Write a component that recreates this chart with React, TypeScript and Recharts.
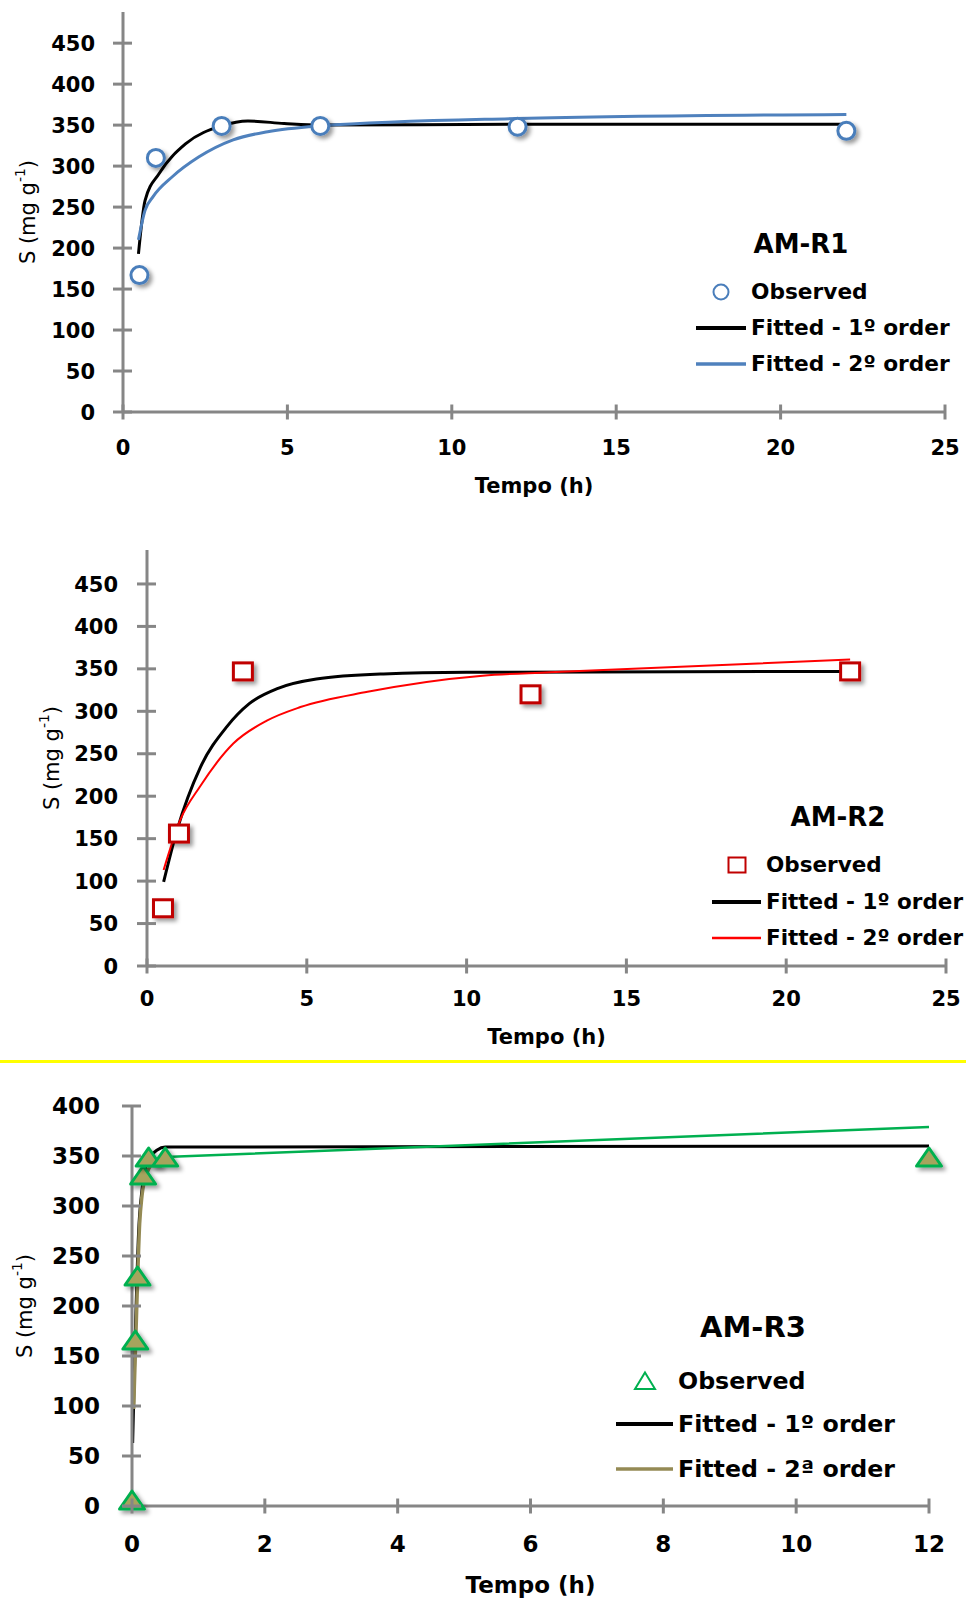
import React from 'react';
import { ComposedChart, Line, Scatter, XAxis, YAxis, Legend, Label } from 'recharts';

const FONT = '"DejaVu Sans", Verdana, sans-serif';
const AXIS_GREY = '#868686';
const PAGE_W = 966;

// ---------- AM-R1 ----------
const r1ObsTime = [0.5, 1, 3, 6, 12, 22];
const r1ObsS = [167, 310, 349, 349, 348, 343];
const r1Fit1Time = [0.47, 0.67, 1.1, 1.9, 3, 3.8, 4.9, 6, 12, 22];
const r1Fit1S = [193, 258, 291, 327, 349, 355, 352, 350, 351, 351];
const r1Fit2Time = [0.47, 0.67, 0.92, 1.5, 2.3, 3.35, 4.4, 6, 12, 22];
const r1Fit2S = [210, 246, 263, 287, 311, 332, 342, 349, 358, 363];

// ---------- AM-R2 ----------
const r2ObsTime = [0.5, 1, 3, 12, 22];
const r2ObsS = [68, 156, 347, 320, 347];
const r2Fit1Time = [0.52, 0.94, 1.67, 2.5, 3.2, 4.1, 5.3, 7.4, 10, 22];
const r2Fit1S = [99, 160, 234, 282, 309, 327, 338, 344, 346, 347];
const r2Fit2Time = [0.52, 1.04, 1.67, 2.7, 3.75, 4.8, 6.9, 10.5, 12.6, 22];
const r2Fit2S = [113, 172, 212, 262, 289, 305, 323, 342, 346, 361];

// ---------- AM-R3 ----------
const r3ObsTime = [0, 0.05, 0.083, 0.167, 0.25, 0.5, 12];
const r3ObsS = [5, 165, 229, 330, 348, 348, 348];
const r3Fit1Time = [0.01, 0.05, 0.1, 0.15, 0.225, 0.38, 0.5, 12];
const r3Fit1S = [63, 172, 275, 316, 343, 356, 359, 360];
const r3Fit2Time = [0.025, 0.075, 0.115, 0.15, 0.225, 0.3];
const r3Fit2S = [97, 206, 282, 310, 333, 342];
const r3TailTime = [0.25, 0.5, 12];
const r3TailS = [344, 349, 379];

const xTicks25 = [0, 5, 10, 15, 20, 25];
const yTicks450 = [0, 50, 100, 150, 200, 250, 300, 350, 400, 450];
const xTicks12 = [0, 2, 4, 6, 8, 10, 12];
const yTicks400 = [0, 50, 100, 150, 200, 250, 300, 350, 400];

const toPoints = (t: number[], s: number[]) => t.map((v, i) => ({ t: v, s: s[i] }));

type LegendCfg = {
  title: string;
  titleX: number;
  titleY: number;
  titleSize: number;
  fontSize: number;
  rowsY: number[];
  markerX: number;
  textX: number;
  lineX1: number;
  lineX2: number;
  marker: 'circle' | 'square' | 'triangle';
  markerColor: string;
  fit1Color: string;
  fit1Width: number;
  fit2Color: string;
  fit2Width: number;
  fit2Label: string;
};

type PanelCfg = {
  top: number;
  height: number;
  yAxisW: number;
  marginTop: number;
  marginRight: number;
  xAxisH: number;
  xDomain: [number, number];
  yDomain: [number, number];
  xTicks: number[];
  yTicks: number[];
  fs: number;
  xTickGap: number;
  yTickGap: number;
  xTitleGap: number;
  yTitleX: number;
  legend: LegendCfg;
};

const LegendMarker = ({ kind, color }: { kind: string; color: string }) => {
  if (kind === 'circle') return <circle cx={12} cy={12} r={7.5} fill="#fff" stroke={color} strokeWidth={2} />;
  if (kind === 'square') return <rect x={3.5} y={4.5} width={17} height={15} fill="#fff" stroke={color} strokeWidth={2} />;
  return <polygon points="12,3.5 22,20 2,20" fill="#fff" stroke={color} strokeWidth={2} />;
};

const LegendBox = ({ cfg, height }: { cfg: LegendCfg; height: number }) => {
  const labels = ['Observed', 'Fitted - 1º order', cfg.fit2Label];
  return (
    <div style={{ position: 'relative', width: PAGE_W, height, fontFamily: FONT, fontWeight: 'bold', color: '#000', pointerEvents: 'none' }}>
      <div style={{ position: 'absolute', left: cfg.titleX - 100, width: 200, top: cfg.titleY - 20, height: 40, lineHeight: '40px', textAlign: 'center', fontSize: cfg.titleSize }}>
        {cfg.title}
      </div>
      {cfg.rowsY.map((y, i) => (
        <React.Fragment key={labels[i]}>
          {i === 0 ? (
            <svg style={{ position: 'absolute', left: cfg.markerX - 12, top: y - 12 }} width={24} height={24}>
              <LegendMarker kind={cfg.marker} color={cfg.markerColor} />
            </svg>
          ) : (
            <svg style={{ position: 'absolute', left: cfg.lineX1, top: y - 5 }} width={cfg.lineX2 - cfg.lineX1} height={10}>
              <line
                x1={0}
                y1={5}
                x2={cfg.lineX2 - cfg.lineX1}
                y2={5}
                stroke={i === 1 ? cfg.fit1Color : cfg.fit2Color}
                strokeWidth={i === 1 ? cfg.fit1Width : cfg.fit2Width}
              />
            </svg>
          )}
          <div style={{ position: 'absolute', left: cfg.textX, top: y - 15, height: 30, lineHeight: '30px', fontSize: cfg.fontSize, whiteSpace: 'nowrap' }}>
            {labels[i]}
          </div>
        </React.Fragment>
      ))}
    </div>
  );
};

const Panel = ({ cfg, children }: { cfg: PanelCfg; children: React.ReactNode }) => {
  const plotLeft = cfg.yAxisW;
  const plotRight = PAGE_W - cfg.marginRight;
  const plotTop = cfg.marginTop;
  const plotBottom = cfg.height - cfg.xAxisH;

  const xTick = (p: any) => (
    <g>
      <line x1={p.x} y1={plotBottom - 7.5} x2={p.x} y2={plotBottom + 7.5} stroke={AXIS_GREY} strokeWidth={3} />
      <text x={p.x} y={plotBottom + cfg.xTickGap + cfg.fs * 0.36} textAnchor="middle" fontSize={cfg.fs} fontWeight="bold" fontFamily={FONT} fill="#000">
        {p.payload.value}
      </text>
    </g>
  );

  const yTick = (p: any) => (
    <g>
      <line x1={plotLeft - 10} y1={p.y} x2={plotLeft + 9} y2={p.y} stroke={AXIS_GREY} strokeWidth={3} />
      <text x={plotLeft - cfg.yTickGap} y={p.y + cfg.fs * 0.36} textAnchor="end" fontSize={cfg.fs} fontWeight="bold" fontFamily={FONT} fill="#000">
        {p.payload.value}
      </text>
    </g>
  );

  const xTitle = () => (
    <text x={(plotLeft + plotRight) / 2} y={plotBottom + cfg.xTitleGap + cfg.fs * 0.36} textAnchor="middle" fontSize={cfg.fs} fontWeight="bold" fontFamily={FONT} fill="#000">
      Tempo (h)
    </text>
  );

  const yTitle = () => {
    const cy = (plotTop + plotBottom) / 2;
    return (
      <text
        transform={`rotate(-90 ${cfg.yTitleX} ${cy})`}
        x={cfg.yTitleX}
        y={cy}
        textAnchor="middle"
        dominantBaseline="central"
        fontSize={21}
        fontFamily={FONT}
        fill="#000"
      >
        S (mg g<tspan baselineShift="super" fontSize={14}>-1</tspan>)
      </text>
    );
  };

  return (
    <div style={{ position: 'absolute', left: 0, top: cfg.top, width: PAGE_W, height: cfg.height }}>
      <ComposedChart width={PAGE_W} height={cfg.height} margin={{ top: cfg.marginTop, right: cfg.marginRight, bottom: 0, left: 0 }}>
        <XAxis
          type="number"
          dataKey="t"
          domain={cfg.xDomain}
          ticks={cfg.xTicks}
          height={cfg.xAxisH}
          axisLine={{ stroke: AXIS_GREY, strokeWidth: 3 }}
          tickLine={false}
          tickSize={0}
          tickMargin={0}
          tick={xTick}
          interval={0}
        >
          <Label content={xTitle} />
        </XAxis>
        <YAxis
          type="number"
          dataKey="s"
          domain={cfg.yDomain}
          ticks={cfg.yTicks}
          width={cfg.yAxisW}
          axisLine={{ stroke: AXIS_GREY, strokeWidth: 3 }}
          tickLine={false}
          tickSize={0}
          tickMargin={0}
          tick={yTick}
          interval={0}
        >
          <Label content={yTitle} />
        </YAxis>
        <Legend
          layout="vertical"
          align="center"
          verticalAlign="middle"
          wrapperStyle={{ left: 0, top: 0, width: PAGE_W, height: cfg.height }}
          content={() => <LegendBox cfg={cfg.legend} height={cfg.height} />}
        />
        {children}
      </ComposedChart>
    </div>
  );
};

const circleShape = (p: any) => (
  <circle cx={p.cx} cy={p.cy} r={8.5} fill="#fff" stroke="#4a7ebb" strokeWidth={3} filter="url(#mk-shadow)" />
);
const squareShape = (p: any) => (
  <rect x={p.cx - 9.5} y={p.cy - 8.5} width={19} height={17} fill="#fff" stroke="#c00000" strokeWidth={3} filter="url(#mk-shadow)" />
);
const triangleShape = (p: any) => (
  <polygon
    points={`${p.cx},${p.cy - 10} ${p.cx + 12.5},${p.cy + 8} ${p.cx - 12.5},${p.cy + 8}`}
    fill="#a6a45d"
    stroke="#00b050"
    strokeWidth={3}
    strokeLinejoin="round"
    filter="url(#mk-shadow)"
  />
);

const panel1: PanelCfg = {
  top: 0, height: 500, yAxisW: 123, marginTop: 12, marginRight: 21, xAxisH: 88,
  xDomain: [0, 25], yDomain: [0, 488], xTicks: xTicks25, yTicks: yTicks450,
  fs: 21, xTickGap: 35, yTickGap: 28, xTitleGap: 73, yTitleX: 28,
  legend: {
    title: 'AM-R1', titleX: 801, titleY: 244, titleSize: 26, fontSize: 21.7,
    rowsY: [292, 328, 364], markerX: 721, textX: 751, lineX1: 696, lineX2: 746,
    marker: 'circle', markerColor: '#4a7ebb', fit1Color: '#000', fit1Width: 4,
    fit2Color: '#4f81bd', fit2Width: 3.5, fit2Label: 'Fitted - 2º order',
  },
};

const panel2: PanelCfg = {
  top: 540, height: 520, yAxisW: 147, marginTop: 10, marginRight: 20, xAxisH: 94,
  xDomain: [0, 25], yDomain: [0, 490], xTicks: xTicks25, yTicks: yTicks450,
  fs: 21, xTickGap: 32, yTickGap: 29, xTitleGap: 70, yTitleX: 52,
  legend: {
    title: 'AM-R2', titleX: 838, titleY: 277, titleSize: 26, fontSize: 21.5,
    rowsY: [325, 362, 398], markerX: 737, textX: 766, lineX1: 712, lineX2: 761,
    marker: 'square', markerColor: '#c00000', fit1Color: '#000', fit1Width: 4,
    fit2Color: '#ff0000', fit2Width: 2.5, fit2Label: 'Fitted - 2º order',
  },
};

const panel3: PanelCfg = {
  top: 1060, height: 541, yAxisW: 132, marginTop: 46, marginRight: 37, xAxisH: 95,
  xDomain: [0, 12], yDomain: [0, 400], xTicks: xTicks12, yTicks: yTicks400,
  fs: 23, xTickGap: 38, yTickGap: 32, xTitleGap: 79, yTitleX: 25,
  legend: {
    title: 'AM-R3', titleX: 753, titleY: 267, titleSize: 29, fontSize: 23.7,
    rowsY: [321, 364, 409], markerX: 645, textX: 678, lineX1: 616, lineX2: 673,
    marker: 'triangle', markerColor: '#00b050', fit1Color: '#000', fit1Width: 4,
    fit2Color: '#948a54', fit2Width: 3.5, fit2Label: 'Fitted - 2ª order',
  },
};

export default function App() {
  return (
    <div style={{ position: 'absolute', left: 0, top: 0, width: PAGE_W, height: 1601, background: '#fff', overflow: 'hidden' }}>
      <svg width={0} height={0} style={{ position: 'absolute' }}>
        <defs>
          <filter id="mk-shadow" x="-50%" y="-50%" width="200%" height="200%">
            <feDropShadow dx={3} dy={3} stdDeviation={2} floodColor="#000" floodOpacity={0.4} />
          </filter>
        </defs>
      </svg>

      <Panel cfg={panel1}>
        <Line data={toPoints(r1Fit1Time, r1Fit1S)} dataKey="s" type="monotone" stroke="#000" strokeWidth={3} dot={false} isAnimationActive={false} />
        <Line data={toPoints(r1Fit2Time, r1Fit2S)} dataKey="s" type="monotone" stroke="#4f81bd" strokeWidth={3} dot={false} isAnimationActive={false} />
        <Scatter data={toPoints(r1ObsTime, r1ObsS)} dataKey="s" shape={circleShape} isAnimationActive={false} />
      </Panel>

      <Panel cfg={panel2}>
        <Scatter data={toPoints(r2ObsTime, r2ObsS)} dataKey="s" shape={squareShape} isAnimationActive={false} />
        <Line data={toPoints(r2Fit1Time, r2Fit1S)} dataKey="s" type="monotone" stroke="#000" strokeWidth={3} dot={false} isAnimationActive={false} />
        <Line data={toPoints(r2Fit2Time, r2Fit2S)} dataKey="s" type="monotone" stroke="#ff0000" strokeWidth={2} dot={false} isAnimationActive={false} />
      </Panel>

      <div style={{ position: 'absolute', left: 0, top: 1060, width: PAGE_W, height: 3, background: '#ffff00' }} />

      <Panel cfg={panel3}>
        <Line data={toPoints(r3Fit1Time, r3Fit1S)} dataKey="s" type="monotone" stroke="#000" strokeWidth={3} dot={false} isAnimationActive={false} />
        <Line data={toPoints(r3Fit2Time, r3Fit2S)} dataKey="s" type="monotone" stroke="#948a54" strokeWidth={3.5} dot={false} isAnimationActive={false} />
        <Line data={toPoints(r3TailTime, r3TailS)} dataKey="s" type="linear" stroke="#00b050" strokeWidth={2.5} dot={false} isAnimationActive={false} />
        <Scatter data={toPoints(r3ObsTime, r3ObsS)} dataKey="s" shape={triangleShape} isAnimationActive={false} />
      </Panel>
    </div>
  );
}
